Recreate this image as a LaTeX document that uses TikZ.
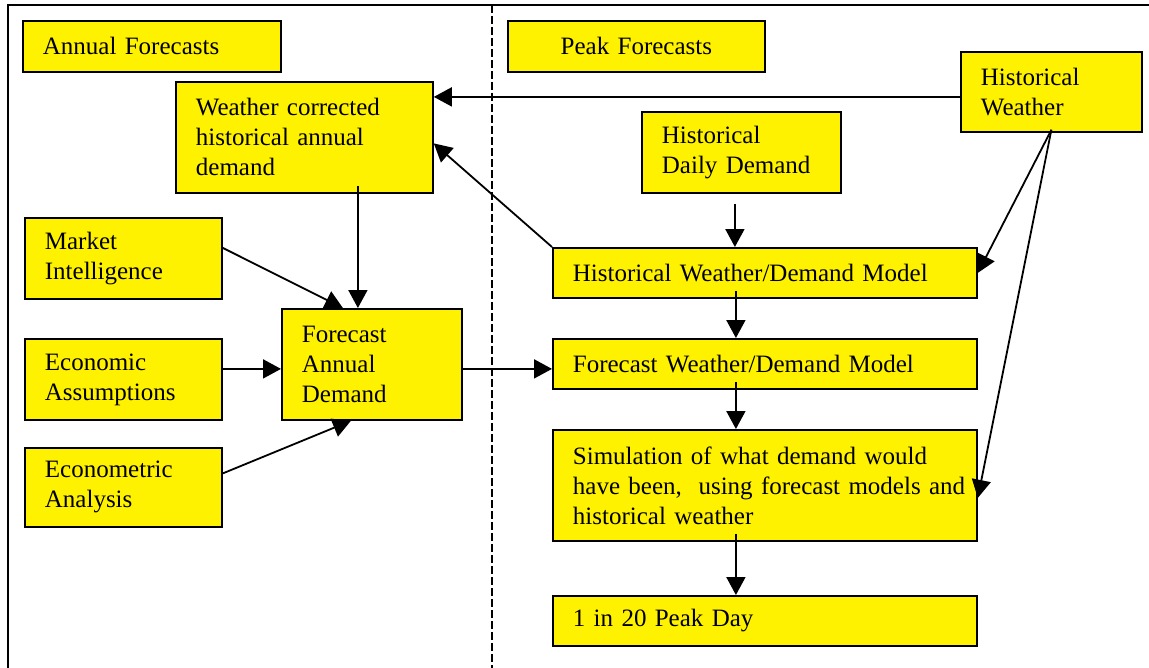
\documentclass[tikz,border=0pt]{standalone}
\usepackage{fontspec}
\setmainfont{Liberation Serif}
\usetikzlibrary{arrows.meta}
\begin{document}
\begin{tikzpicture}[x=0.5pt,y=-0.5pt,
  box/.style={draw=black, line width=0.9pt, fill=yellow, anchor=north west, align=left,
    inner xsep=10pt, inner ysep=0pt, font=\fontsize{12.5}{15}\selectfont},
  arr/.style={line width=0.9pt, -{Triangle[length=9pt,width=9.5pt]}},
  frame/.style={line width=1pt},
  divider/.style={line width=0.8pt, dash pattern=on 4pt off 1.5pt},
]
\useasboundingbox (0,0) rectangle (1149,668);
% frame and divider
\coordinate (ftl) at (8,5);
\coordinate (ftr) at (1149,5);
\coordinate (fbl) at (8,668);
\coordinate (dtop) at (492,5);
\coordinate (dbot) at (492,668);
\draw[frame] (ftr) -- (ftl) -- (fbl);
\draw[divider] (dtop) -- (dbot);
% boxes
\node[box, minimum width=129pt, text width=109pt, minimum height=25.5pt] (annual) at (22,20) {Annual Forecasts};
\node[box, minimum width=128.5pt, text width=108.5pt, minimum height=25.5pt, align=center] (peak) at (507,20) {Peak Forecasts};
\node[box, minimum width=90.5pt, text width=70.5pt, minimum height=40pt] (hw) at (960,51) {Historical\\Weather};
\node[box, minimum width=128.5pt, text width=108.5pt, minimum height=55.5pt] (wc) at (175,81) {Weather corrected\\historical annual\\demand};
\node[box, minimum width=99.5pt, text width=79.5pt, minimum height=40.5pt] (hdd) at (641,111) {Historical\\Daily Demand};
\node[box, minimum width=98.5pt, text width=78.5pt, minimum height=40.5pt] (mi) at (24,217) {Market\\Intelligence};
\node[box, minimum width=212pt, text width=192pt, minimum height=25pt] (hwdm) at (552,247) {Historical Weather/Demand Model};
\node[box, minimum width=90pt, text width=70pt, minimum height=55.5pt] (fad) at (281,308) {Forecast\\Annual\\Demand};
\node[box, minimum width=98.5pt, text width=78.5pt, minimum height=40.5pt] (ea) at (24,338) {Economic\\Assumptions};
\node[box, minimum width=212pt, text width=192pt, minimum height=25pt] (fwdm) at (552,338) {Forecast Weather/Demand Model};
\node[box, minimum width=98.5pt, text width=78.5pt, minimum height=39.5pt] (eca) at (24,447) {Econometric\\Analysis};
\node[box, minimum width=212pt, text width=192pt, minimum height=55.5pt] (sim) at (552,429) {\mbox{Simulation of what demand would}\\\mbox{have been,\ \ using forecast models and}\\historical weather};
\node[box, minimum width=212pt, text width=192pt, minimum height=25pt] (pday) at (552,595) {1 in 20 Peak Day};
% connectors
\draw[arr] ([yshift=-2.5pt]hw.west) -- ([yshift=-2.5pt]hw.west -| wc.east);
\draw[arr] (hwdm.north west) -- ([yshift=-3pt]wc.east);
\draw[arr] ([xshift=26.75pt,yshift=4pt]wc.south) -- ([xshift=26.75pt]wc.south |- fad.north);
\draw[arr] ([yshift=5.25pt]mi.east) -- ([xshift=-14.5pt]fad.north);
\draw[arr] ([yshift=5.25pt]ea.east) -- ([yshift=5.25pt]ea.east -| fad.west);
\draw[arr] ([yshift=7pt]eca.east) -- ([xshift=-10.5pt]fad.south);
\draw[arr] ([yshift=-2.25pt]fad.east) -- ([yshift=-2.25pt]fad.east -| fwdm.west);
\draw[arr] ([xshift=-3.25pt,yshift=-5pt]hdd.south) -- ([xshift=-3.25pt]hdd.south |- hwdm.north);
\draw[arr] ([xshift=-14.5pt,yshift=4pt]hwdm.south) -- ([xshift=-14.5pt]hwdm.south |- fwdm.north);
\draw[arr] ([xshift=-14.5pt,yshift=4pt]fwdm.south) -- ([xshift=-14.5pt]fwdm.south |- sim.north);
\draw[arr] ([xshift=-14.5pt,yshift=4pt]sim.south) -- ([xshift=-14.5pt]sim.south |- pday.north);
\draw[arr] ([yshift=1.5pt]hw.south) -- (hwdm.east);
\draw[arr] ([yshift=1.5pt]hw.south) -- ([yshift=-6.25pt]sim.east);
\end{tikzpicture}
\end{document}
